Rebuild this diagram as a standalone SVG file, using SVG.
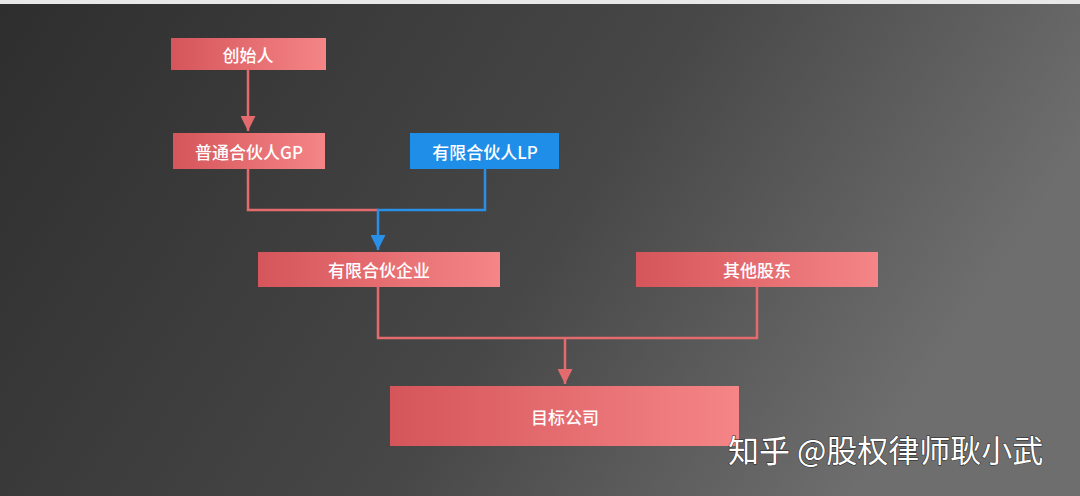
<svg xmlns="http://www.w3.org/2000/svg" width="1080" height="496" viewBox="0 0 1080 496">
<defs>
<linearGradient id="bg" x1="0" y1="0" x2="1" y2="0.3"><stop offset="0" stop-color="#2e2e2e"/><stop offset="0.6" stop-color="#474747"/><stop offset="1" stop-color="#6e6e6e"/></linearGradient>
<linearGradient id="red" x1="0" y1="0" x2="1" y2="0"><stop offset="0" stop-color="#d5555a"/><stop offset="1" stop-color="#f58587"/></linearGradient>
<marker id="ar" viewBox="0 0 10 10" refX="10" refY="5" markerWidth="6" markerHeight="6" orient="auto"><path d="M0,0L10,5L0,10z" fill="#e36b6e"/></marker>
<marker id="ab" viewBox="0 0 10 10" refX="10" refY="5" markerWidth="6" markerHeight="6" orient="auto"><path d="M0,0L10,5L0,10z" fill="#2a8fe6"/></marker>
<style>
.n{fill:url(#red)}
.t{font-family:"Noto Sans CJK SC","Liberation Sans",sans-serif;font-size:17px;fill:#fff;text-anchor:middle;dominant-baseline:central;font-weight:500}
.r{stroke:#e36b6e;stroke-width:2.5;fill:none}
.b{stroke:#2a8fe6;stroke-width:2.5;fill:none}
</style>
</defs>
<rect width="1080" height="496" fill="url(#bg)"/>
<rect width="1080" height="4" fill="#e8e8e8"/>
<g id="connectors">
<path class="r" d="M248,70V131" marker-end="url(#ar)"/>
<path class="r" d="M248,169V210H378"/>
<path class="b" d="M485,169V210H378V250" marker-end="url(#ab)"/>
<path class="r" d="M378,287V338H757V287"/>
<path class="r" d="M565,338V384" marker-end="url(#ar)"/>
</g>
<g id="founder"><rect class="n" x="171" y="38" width="155" height="32"/><text class="t" x="248" y="54">创始人</text></g>
<g id="gp"><rect class="n" x="173" y="133" width="152" height="36"/><text class="t" x="249" y="151">普通合伙人GP</text></g>
<g id="lp"><rect x="410" y="133" width="149" height="36" fill="#1f8ee8"/><text class="t" x="485" y="151">有限合伙人LP</text></g>
<g id="partnership"><rect class="n" x="258" y="252" width="242" height="35"/><text class="t" x="379" y="269">有限合伙企业</text></g>
<g id="others"><rect class="n" x="636" y="252" width="242" height="35"/><text class="t" x="757" y="269">其他股东</text></g>
<g id="target"><rect class="n" x="390" y="386" width="349" height="60"/><text class="t" x="565" y="416">目标公司</text></g>
<text x="728" y="462" font-family="Noto Sans CJK SC,sans-serif" font-size="31" fill="#fff" style="paint-order:stroke" stroke="#222" stroke-width="1">知乎 @股权律师耿小武</text>
</svg>
